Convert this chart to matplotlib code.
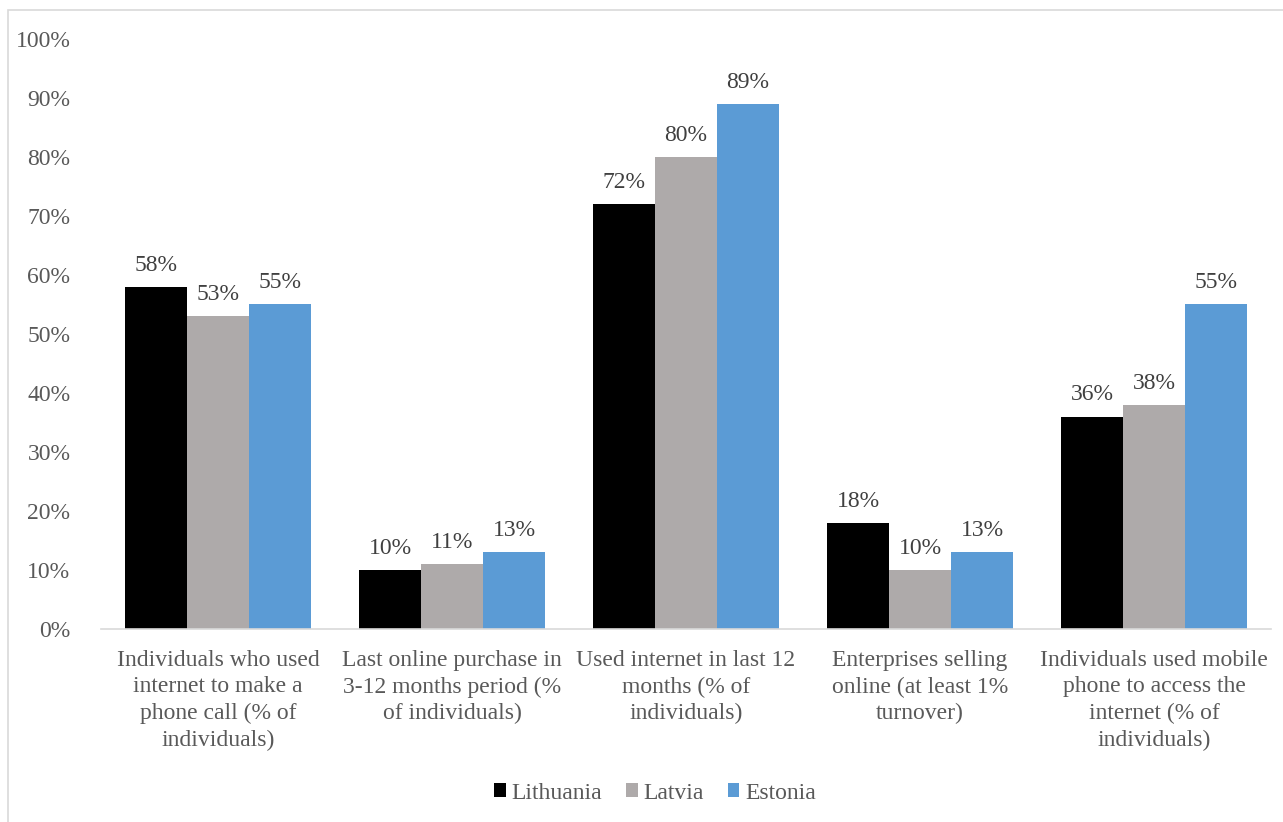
import matplotlib
matplotlib.use("Agg")
import matplotlib.pyplot as plt
import numpy as np
from matplotlib.patches import Rectangle

categories = [
    "Individuals who used\ninternet to make a\nphone call (% of\nindividuals)",
    "Last online purchase in\n3-12 months period (%\nof individuals)",
    "Used internet in last 12\nmonths (% of\nindividuals)",
    "Enterprises selling\nonline (at least 1%\nturnover)",
    "Individuals used mobile\nphone to access the\ninternet (% of\nindividuals)",
]
series_names = ["Lithuania", "Latvia", "Estonia"]
lithuania = [58, 10, 72, 18, 36]
latvia = [53, 11, 80, 10, 38]
estonia = [55, 13, 89, 13, 55]
colors = ["#000000", "#AEAAAA", "#5B9BD5"]
text_color = "#595959"
FAM = 'Liberation Serif'

plt.rcParams['font.family'] = FAM
plt.rcParams['font.serif'] = ['Liberation Serif']

fig = plt.figure(figsize=(12.83, 8.22), dpi=100)
W, H = 1283, 822
ax = fig.add_axes([101 / W, 1 - 629 / H, (1271 - 101) / W, (629 - 39) / H])

# figure border
fig.patches.append(Rectangle((8 / W, -0.01), 1.5, 1 - 10 / H + 0.01, transform=fig.transFigure,
                             fill=False, edgecolor="#D9D9D9", linewidth=1.2))

x = np.arange(len(categories))
bw = 62 / 234
all_series = [lithuania, latvia, estonia]
for i, (vals, c, name) in enumerate(zip(all_series, colors, series_names)):
    pos = x + (i - 1) * bw
    bars = ax.bar(pos, vals, width=bw, color=c, label=name)
    for b, v in zip(bars, vals):
        ax.text(b.get_x() + b.get_width() / 2, v + 1.9, f"{v}%", ha="center", va="bottom",
                fontsize=17, color="#404040", family=FAM)

ax.set_xlim(-0.5, len(categories) - 0.5)
ax.set_ylim(0, 100)
ax.set_yticks(np.arange(0, 101, 10))
ax.set_yticklabels([f"{t}%" for t in range(0, 101, 10)], fontsize=17, color=text_color, family=FAM)
ax.set_xticks(x)
ax.set_xticklabels(categories, fontsize=17, color=text_color, family=FAM)
for lab in ax.get_xticklabels():
    lab.set_linespacing(1.35)
    lab.set_fontfamily(FAM)
ax.tick_params(axis="both", length=0)
ax.tick_params(axis="y", pad=22)
ax.tick_params(axis="x", pad=15)
for s in ["top", "right", "left"]:
    ax.spines[s].set_visible(False)
ax.spines["bottom"].set_color("#D9D9D9")
ax.spines["bottom"].set_linewidth(1.2)

leg = fig.legend(loc="center", bbox_to_anchor=(655 / W, 1 - 793 / H), ncol=3, frameon=False,
                 prop={"family": FAM, "size": 17}, handlelength=0.5, handleheight=0.5,
                 handletextpad=0.25, columnspacing=1.0)
for t in leg.get_texts():
    t.set_color(text_color)

fig.savefig("out.png", dpi=100)
